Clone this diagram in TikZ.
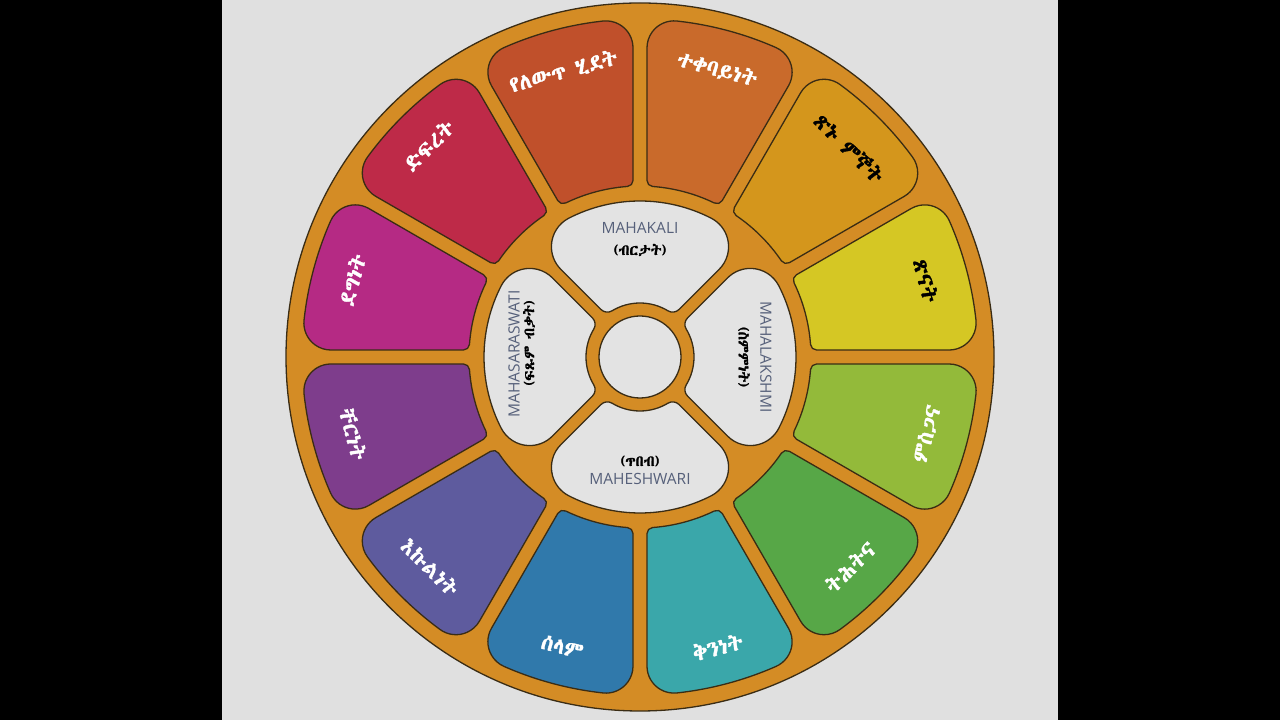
\documentclass[tikz,border=0pt]{standalone}
\usepackage{fontspec}
\setsansfont{Open Sans}
\IfFontExistsTF{Abyssinica SIL}{\newfontfamily\eth[FakeBold=1.6]{Abyssinica SIL}}{%
 \IfFontExistsTF{FreeSerif}{\newfontfamily\eth[FakeBold=1.6]{FreeSerif}}{%
 \IfFontExistsTF{FreeSans}{\newfontfamily\eth[FakeBold=1.6]{FreeSans}}{\newfontfamily\eth{DejaVu Sans}}}}
\definecolor{bgray}{HTML}{E0E0E0}
\definecolor{ringc}{HTML}{D48C25}
\definecolor{outc}{HTML}{3A2C14}
\definecolor{lobec}{HTML}{E3E3E3}
\definecolor{engc}{HTML}{56607A}
\definecolor{cA}{HTML}{C0502B}
\definecolor{cB}{HTML}{C96A2B}
\definecolor{cC}{HTML}{D4961C}
\definecolor{cD}{HTML}{D5C724}
\definecolor{cE}{HTML}{93BA3A}
\definecolor{cF}{HTML}{57A747}
\definecolor{cG}{HTML}{3AA7AA}
\definecolor{cH}{HTML}{3079AB}
\definecolor{cI}{HTML}{5E5B9E}
\definecolor{cJ}{HTML}{7E3D8C}
\definecolor{cK}{HTML}{B52A84}
\definecolor{cL}{HTML}{BE2A48}
\tikzset{
 outl/.style={draw=outc, line width=1.3pt, line join=round},
 ptxt/.style={font={\eth\fontsize{22}{24}\selectfont}, inner sep=0pt},
 engtxt/.style={font={\sffamily\fontsize{15.5}{17}\selectfont}, text=engc, inner sep=0pt},
 amtxt/.style={font={\eth\fontsize{15}{17}\selectfont}, text=black, inner sep=0pt}
}
\newcommand{\drawsector}[8]{%
 \pgfmathsetmacro\sdo{#3-#6}%
 \pgfmathsetmacro\sbo{#2-asin((#5+#6)/\sdo)}%
 \pgfmathsetmacro\sdi{#4+#7}%
 \pgfmathsetmacro\sbi{#2-asin((#5+#7)/\sdi)}%
 \pgfmathsetmacro\qax{\sdi*cos(\sbi)+#7*cos(90+#2)}%
 \pgfmathsetmacro\qay{\sdi*sin(\sbi)+#7*sin(90+#2)}%
 \pgfmathsetmacro\qbx{\sdo*cos(\sbo)+#6*cos(270-#2)}%
 \pgfmathsetmacro\qby{-\sdo*sin(\sbo)+#6*sin(270-#2)}%
 \begin{scope}[shift={(O)}, rotate=#1]
 \draw[outl, fill=#8] (-\sbo:#3) arc[start angle=-\sbo, end angle=\sbo, radius=#3]
 arc[start angle=\sbo, end angle=90+#2, radius=#6]
 -- (\qax,\qay)
 arc[start angle=90+#2, end angle=180+\sbi, radius=#7]
 arc[start angle=\sbi, end angle=-\sbi, radius=#4]
 arc[start angle=180-\sbi, end angle=270-#2, radius=#7]
 -- (\qbx,\qby)
 arc[start angle=270-#2, end angle=360-\sbo, radius=#6]
 -- cycle;
 \end{scope}}
\begin{document}
\begin{tikzpicture}[x=1pt,y=1pt]
\useasboundingbox (0,0) rectangle (1280,720);
\fill[black] (0,0) rectangle (1280,720);
\fill[bgray] (222,0) rectangle (1058,720);
\coordinate (O) at (640,363);
% outer disk
\draw[outl, fill=ringc] (O) circle[radius=354];
% petals
\drawsector{105}{15}{338}{171}{7}{27}{6}{cA}
\drawsector{75}{15}{338}{171}{7}{27}{6}{cB}
\drawsector{45}{15}{338}{171}{7}{27}{6}{cC}
\drawsector{15}{15}{338}{171}{7}{27}{6}{cD}
\drawsector{-15}{15}{338}{171}{7}{27}{6}{cE}
\drawsector{-45}{15}{338}{171}{7}{27}{6}{cF}
\drawsector{-75}{15}{338}{171}{7}{27}{6}{cG}
\drawsector{-105}{15}{338}{171}{7}{27}{6}{cH}
\drawsector{-135}{15}{338}{171}{7}{27}{6}{cI}
\drawsector{-165}{15}{338}{171}{7}{27}{6}{cJ}
\drawsector{165}{15}{338}{171}{7}{27}{6}{cK}
\drawsector{135}{15}{338}{171}{7}{27}{6}{cL}
% lobes
\drawsector{90}{45}{156}{54}{6}{32}{9}{lobec}
\drawsector{0}{45}{156}{54}{6}{32}{9}{lobec}
\drawsector{-90}{45}{156}{54}{6}{32}{9}{lobec}
\drawsector{180}{45}{156}{54}{6}{32}{9}{lobec}
% centre circle
\draw[outl, fill=lobec] (O) circle[radius=41];
% petal texts
\node[ptxt, text=white, rotate=15]  (p105) at ([shift={(105:296)}]O) {የለውጥ ሂደት};
\node[ptxt, text=white, rotate=-15] (p75)  at ([shift={(75:298)}]O) {ተቀባይነት};
\node[ptxt, text=black, rotate=-45] (p45)  at ([shift={(45:296)}]O) {ጽኑ ምኞት};
\node[ptxt, text=black, rotate=-75] (p15)  at ([shift={(15:296)}]O) {ጽናት};
\node[ptxt, text=white, rotate=75]  (pm15) at ([shift={(-15:297)}]O) {ምስጋና};
\node[ptxt, text=white, rotate=45]  (pm45) at ([shift={(-45:297)}]O) {ትሕትና};
\node[ptxt, text=white, rotate=15]  (pm75) at ([shift={(-75:300)}]O) {ቅንነት};
\node[ptxt, text=white, rotate=-15] (pm105) at ([shift={(-105:300)}]O) {ሰላም};
\node[ptxt, text=white, rotate=-45] (pm135) at ([shift={(-135:297)}]O) {እኩልነት};
\node[ptxt, text=white, rotate=-75] (pm165) at ([shift={(-165:297)}]O) {ቸርነት};
\node[ptxt, text=white, rotate=75]  (p165) at ([shift={(165:298)}]O) {ደግነት};
\node[ptxt, text=white, rotate=45]  (p135) at ([shift={(135:299)}]O) {ድፍረት};
% lobe texts
\node[engtxt] (e1) at ([shift={(0,129)}]O) {MAHAKALI};
\node[amtxt]  (a1) at ([shift={(0,107)}]O) {(ብርታት)};
\node[engtxt, rotate=-90] (e2) at ([shift={(126,0)}]O) {MAHALAKSHMI};
\node[amtxt, rotate=-90]  (a2) at ([shift={(104,0)}]O) {(ስምምነት)};
\node[engtxt] (e3) at ([shift={(0,-122)}]O) {MAHESHWARI};
\node[amtxt]  (a3) at ([shift={(0,-104)}]O) {(ጥበብ)};
\node[engtxt, rotate=90] (e4) at ([shift={(-126,3)}]O) {MAHASARASWATI};
\node[amtxt, rotate=90]  (a4) at ([shift={(-111,14)}]O) {(ፍጹም ብቃት)};
\end{tikzpicture}
\end{document}
